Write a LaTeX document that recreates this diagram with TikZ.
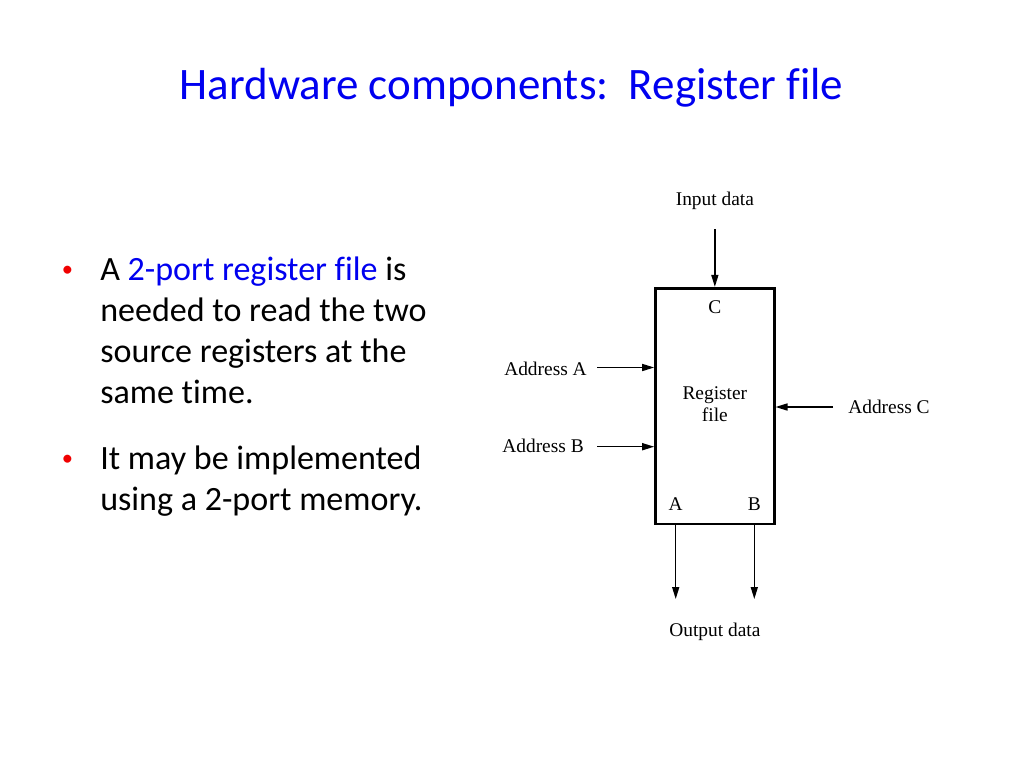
\documentclass[tikz,border=0pt]{standalone}
\usepackage{xcolor}
\usepackage{fontspec}
\setmainfont[Ligatures=NoCommon]{Liberation Serif}
\newfontfamily\slidefont[Ligatures=NoCommon]{Carlito}
\usepackage{tikz}
\usetikzlibrary{arrows.meta, positioning}
\definecolor{titleblue}{HTML}{0000F0}
\definecolor{bulletred}{HTML}{F00000}
\tikzset{
  slidetitle/.style={
    text=titleblue, inner sep=0pt,
    font=\slidefont\fontsize{32}{38}\selectfont,
  },
  bullettext/.style={
    align=left, inner sep=0pt,
    font=\slidefont\fontsize{24.2}{28.95}\selectfont,
  },
  bulletdot/.style={
    text=bulletred, inner sep=0pt,
    font=\slidefont\fontsize{16}{19}\selectfont,
  },
  regbox/.style={
    rectangle, draw=black, line width=2.1pt,
    minimum width=2.96cm, minimum height=5.89cm,
  },
  sig/.style={inner sep=0pt, font=\fontsize{13.8}{16}\selectfont},
  arrow/.style={-{Triangle[length=8.5pt, width=5pt]}, line width=1pt},
}

\begin{document}
\begin{tikzpicture}[x=0.025cm, y=-0.025cm]

  \fill[white] (0,0) rectangle (1024,768);
  \useasboundingbox (0,0) rectangle (1024,768);

  \node[slidetitle, anchor=base] (title) at (511.5,100) {Hardware components:\ \ Register file};

  % bullets (node base = last line)
  \node[bulletdot, anchor=base west] (dot1) at (61.5,276) {\textbullet};
  \node[bullettext, anchor=base west] (b1) at (100,403)
    {A \textcolor{titleblue}{2-port register file} is\\needed to read the two\\source registers at the\\same time.};
  \node[bulletdot, anchor=base west] (dot2) at (61.5,465) {\textbullet};
  \node[bullettext, anchor=base west] (b2) at (100,510)
    {It may be implemented\\using a 2-port memory.};

  % register file
  \node[regbox] (rf) at (714.85,406.15) {};
  \node[sig, align=center] (rflbl) at (714.85,404) {Register\\file};
  \node[sig, anchor=base] (pc) at (714.85,313) {C};
  \node[sig, anchor=base] (pa) at (675.7,510) {A};
  \node[sig, anchor=base] (pb) at (754.3,510) {B};

  \coordinate (intop) at (714.85,229);
  \coordinate (adra) at (597,367.5);
  \coordinate (adrb) at (597,446.7);
  \coordinate (adrc) at (833,407);
  \coordinate (outa) at (675.7,599);
  \coordinate (outb) at (754.3,599);

  \node[sig, anchor=base] (inlbl) at (714.85,205) {Input data};
  \node[sig, anchor=base east] (albl) at (587,375) {Address A};
  \node[sig, anchor=base east] (blbl) at (584,452.7) {Address B};
  \node[sig, anchor=base west] (clbl) at (848,413.5) {Address C};
  \node[sig, anchor=base] (outlbl) at (714.85,636.7) {Output data};

  \draw[arrow] (intop) -- (rf.north);
  \draw[arrow] (adra) -- (rf.west |- adra);
  \draw[arrow] (adrb) -- (rf.west |- adrb);
  \draw[arrow] (adrc) -- (rf.east |- adrc);
  \draw[arrow] (rf.south -| outa) -- (outa);
  \draw[arrow] (rf.south -| outb) -- (outb);

\end{tikzpicture}
\end{document}
